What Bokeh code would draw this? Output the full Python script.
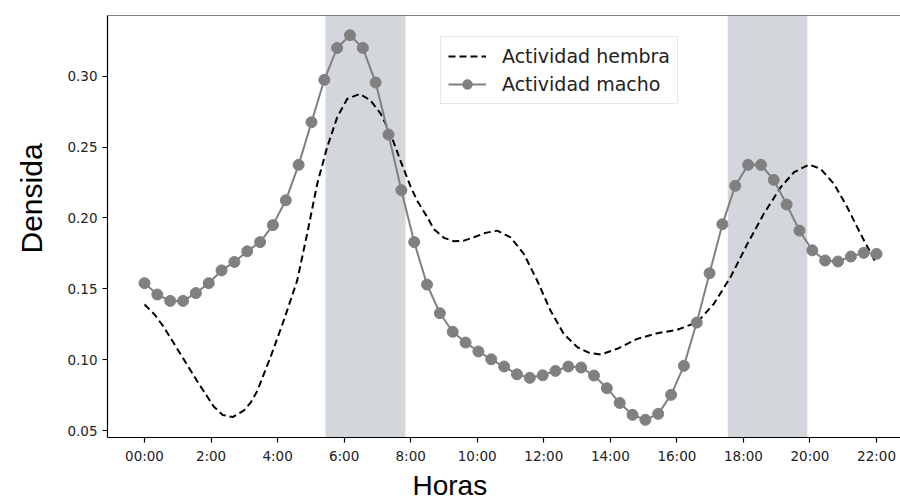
from bokeh.plotting import figure
from bokeh.models import BoxAnnotation, Span, FixedTicker, Range1d, Title
from bokeh.embed import file_html
from bokeh.resources import INLINE

# ---- data ----
hembra_horas = [0.00, 0.30, 0.58, 1.08, 1.58, 2.08, 2.35, 2.65, 2.98, 3.20, 3.39, 3.79,
                4.19, 4.59, 4.89, 5.19, 5.49, 5.79, 6.09, 6.47, 6.79, 7.10, 7.40, 7.70,
                8.00, 8.20, 8.50, 8.70, 9.00, 9.30, 9.60, 9.90, 10.25, 10.60, 11.00, 11.40,
                11.80, 12.20, 12.60, 13.01, 13.35, 13.71, 14.21, 14.81, 15.41, 16.01, 16.61,
                17.11, 17.61, 18.12, 18.61, 19.12, 19.52, 19.97, 20.32, 20.72, 21.12, 21.52,
                21.97]
hembra_densidad = [0.139, 0.132, 0.123, 0.104, 0.085, 0.067, 0.061, 0.0595, 0.064, 0.070,
                   0.078, 0.102, 0.128, 0.156, 0.189, 0.224, 0.250, 0.271, 0.284, 0.2876,
                   0.283, 0.2735, 0.259, 0.240, 0.222, 0.212, 0.2005, 0.192, 0.186, 0.1836,
                   0.184, 0.1864, 0.1895, 0.1911, 0.1864, 0.1747, 0.1559, 0.1347, 0.1182,
                   0.1088, 0.105, 0.1036, 0.1077, 0.1147, 0.1187, 0.1211, 0.1264, 0.1394,
                   0.1582, 0.1818, 0.2029, 0.2217, 0.2323, 0.2377, 0.2347, 0.2241, 0.2076,
                   0.1888, 0.1688]

macho_horas = [0.0, 0.386, 0.772, 1.158, 1.544, 1.930, 2.316, 2.702, 3.088, 3.474,
               3.860, 4.246, 4.632, 5.018, 5.404, 5.789, 6.175, 6.561, 6.947, 7.333,
               7.719, 8.105, 8.491, 8.877, 9.263, 9.649, 10.035, 10.421, 10.807, 11.193,
               11.579, 11.965, 12.351, 12.737, 13.123, 13.509, 13.895, 14.281, 14.667, 15.053,
               15.439, 15.825, 16.211, 16.596, 16.982, 17.368, 17.754, 18.140, 18.526, 18.912,
               19.298, 19.684, 20.070, 20.456, 20.842, 21.228, 21.614, 22.0]
macho_densidad = [0.154, 0.146, 0.1415, 0.1415, 0.147, 0.154, 0.163, 0.169, 0.1765, 0.183,
                  0.195, 0.2125, 0.2375, 0.2676, 0.2975, 0.320, 0.329, 0.320, 0.2956, 0.2589,
                  0.2196, 0.183, 0.153, 0.1328, 0.1197, 0.1121, 0.1058, 0.1003, 0.0952, 0.0897,
                  0.0872, 0.089, 0.0921, 0.0952, 0.0945, 0.0888, 0.0799, 0.0695, 0.0611, 0.0576,
                  0.0618, 0.0752, 0.0957, 0.1262, 0.161, 0.1956, 0.2227, 0.2375, 0.2375, 0.2269,
                  0.2095, 0.1911, 0.1772, 0.170, 0.1693, 0.1728, 0.1754, 0.1747]

franjas_inicio = [5.44, 17.53]
franjas_fin = [7.845, 19.92]

x_ticks = [0, 2, 4, 6, 8, 10, 12, 14, 16, 18, 20, 22]
x_tick_labels = ["00:00", "2:00", "4:00", "6:00", "8:00", "10:00", "12:00",
                 "14:00", "16:00", "18:00", "20:00", "22:00"]
y_ticks = [0.05, 0.10, 0.15, 0.20, 0.25, 0.30]
y_tick_labels = ["0.05", "0.10", "0.15", "0.20", "0.25", "0.30"]

Y_MIN, Y_MAX = 0.0451, 0.3429

p = figure(width=900, height=502,
           x_range=Range1d(-1.112, 22.72), y_range=Range1d(Y_MIN, Y_MAX),
           output_backend="svg", toolbar_location=None,
           min_border_left=107, min_border_right=0, min_border_top=15, min_border_bottom=65)

p.background_fill_color = "white"
p.border_fill_color = "white"
p.outline_line_color = None
p.xgrid.visible = False
p.ygrid.visible = False

for a, b in zip(franjas_inicio, franjas_fin):
    p.add_layout(BoxAnnotation(left=a, right=b, fill_color="#d3d6da", fill_alpha=1.0,
                               line_color=None, level="underlay"))

p.line(hembra_horas, hembra_densidad, line_color="black", line_width=2,
       line_dash="7 4", legend_label="Actividad hembra")
p.line(macho_horas, macho_densidad, line_color="#808080", line_width=2,
       legend_label="Actividad macho")
p.scatter(macho_horas, macho_densidad, size=11, fill_color="#808080",
          line_color="#808080", legend_label="Actividad macho")

# top spine
p.add_layout(Span(location=Y_MAX, dimension="width", line_color="black", line_width=1.2))

for ax in (p.xaxis[0], p.yaxis[0]):
    ax.axis_line_color = "black"
    ax.axis_line_width = 1.2
    ax.major_tick_line_color = "black"
    ax.major_tick_line_width = 1.2
    ax.major_tick_out = 5
    ax.major_tick_in = 0
    ax.minor_tick_line_color = None
    ax.major_label_text_font = "DejaVu Sans"
    ax.major_label_text_font_size = "13.5px"
    ax.major_label_text_color = "#222222"
    ax.major_label_standoff = 5

p.xaxis.ticker = FixedTicker(ticks=x_ticks)
p.xaxis.major_label_overrides = {t: l for t, l in zip(x_ticks, x_tick_labels)}
p.yaxis.ticker = FixedTicker(ticks=y_ticks)
p.yaxis.major_label_overrides = {t: l for t, l in zip(y_ticks, y_tick_labels)}

# axis titles
t_y = Title(text="Densida", align="left", offset=184, standoff=29, vertical_align="top",
            text_font="Liberation Sans", text_font_size="30px",
            text_font_style="normal", text_color="black")
t_x = Title(text="Horas", align="left", offset=305, standoff=3, vertical_align="bottom",
            text_font="Liberation Sans", text_font_size="28px",
            text_font_style="normal", text_color="black")
p.add_layout(t_y, "left")
p.add_layout(t_x, "below")

lg = p.legend[0]
lg.location = (333, 333)
lg.label_text_font = "DejaVu Sans"
lg.label_text_font_size = "19px"
lg.label_text_color = "#222222"
lg.padding = 7
lg.spacing = 4
lg.margin = 0
lg.glyph_width = 38
lg.glyph_height = 24
lg.label_height = 24
lg.label_standoff = 16
lg.border_line_color = "#d0d0d0"
lg.border_line_width = 1
lg.background_fill_alpha = 0.85

open("out.html", "w").write(file_html(p, INLINE))
